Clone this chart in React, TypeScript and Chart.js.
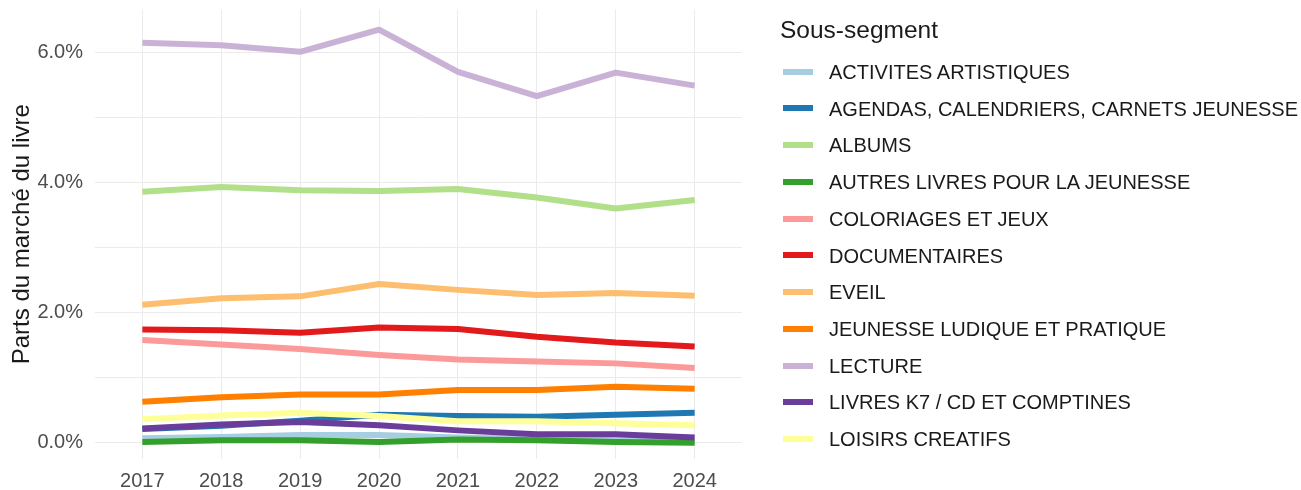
import React, { useEffect, useRef } from "react";
import { Chart, registerables } from "chart.js";

Chart.register(...registerables);

const years = [2017, 2018, 2019, 2020, 2021, 2022, 2023, 2024];

const seriesNames = [
  "ACTIVITES ARTISTIQUES",
  "AGENDAS, CALENDRIERS, CARNETS JEUNESSE",
  "ALBUMS",
  "AUTRES LIVRES POUR LA JEUNESSE",
  "COLORIAGES ET JEUX",
  "DOCUMENTAIRES",
  "EVEIL",
  "JEUNESSE LUDIQUE ET PRATIQUE",
  "LECTURE",
  "LIVRES K7 / CD ET COMPTINES",
  "LOISIRS CREATIFS",
];

const activites = [0.07, 0.09, 0.12, 0.12, 0.08, 0.06, 0.04, 0.03];
const agendas = [0.21, 0.26, 0.34, 0.43, 0.41, 0.4, 0.43, 0.46];
const albums = [3.86, 3.93, 3.88, 3.87, 3.9, 3.77, 3.6, 3.73];
const autres = [0.01, 0.04, 0.04, 0.01, 0.05, 0.04, 0.01, 0.0];
const coloriages = [1.58, 1.51, 1.44, 1.35, 1.28, 1.25, 1.22, 1.15];
const documentaires = [1.74, 1.73, 1.69, 1.77, 1.75, 1.63, 1.54, 1.48];
const eveil = [2.12, 2.22, 2.25, 2.44, 2.35, 2.27, 2.3, 2.26];
const ludique = [0.63, 0.7, 0.74, 0.74, 0.81, 0.81, 0.86, 0.83];
const lecture = [6.15, 6.11, 6.01, 6.35, 5.7, 5.33, 5.69, 5.49];
const livresK7 = [0.22, 0.28, 0.32, 0.27, 0.19, 0.13, 0.13, 0.08];
const loisirs = [0.36, 0.42, 0.46, 0.41, 0.33, 0.33, 0.3, 0.27];

const seriesValues = [
  activites,
  agendas,
  albums,
  autres,
  coloriages,
  documentaires,
  eveil,
  ludique,
  lecture,
  livresK7,
  loisirs,
];

const colors = [
  "#A6CEE3",
  "#1F78B4",
  "#B2DF8A",
  "#33A02C",
  "#FB9A99",
  "#E31A1C",
  "#FDBF6F",
  "#FF7F00",
  "#CAB2D6",
  "#6A3D9A",
  "#FFFF99",
];

const yTicks = [0, 1, 2, 3, 4, 5, 6];

const FONT = "'Liberation Sans', Arial, sans-serif";

export default function App() {
  const ref = useRef<HTMLCanvasElement>(null);

  useEffect(() => {
    if (!ref.current) return;
    Chart.defaults.font.family = FONT;
    const chart = new Chart(ref.current, {
      type: "line",
      data: {
        datasets: seriesValues.map((vals, i) => ({
          label: seriesNames[i],
          data: years.map((yr, j) => ({ x: yr, y: vals[j] })),
          borderColor: colors[i],
          backgroundColor: colors[i],
          borderWidth: 6,
          pointRadius: 0,
          pointHoverRadius: 0,
          tension: 0,
          borderJoinStyle: "round",
          borderCapStyle: "butt",
          order: -i,
        })),
      },
      options: {
        animation: false,
        responsive: false,
        events: [],
        layout: { padding: { left: 8, right: 559, top: 9.5, bottom: 0 } },
        plugins: {
          legend: { display: false },
          tooltip: { enabled: false },
        },
        scales: {
          x: {
            type: "linear",
            min: 2016.4,
            max: 2024.6,
            afterBuildTicks: (s: any) => {
              s.ticks = years.map((v) => ({ value: v }));
            },
            afterFit: (s: any) => {
              s.height = 31;
              s.paddingLeft = 0;
              s.paddingRight = 0;
            },
            grid: { color: "#EBEBEB", lineWidth: 1, drawTicks: false },
            border: { display: false },
            ticks: {
              callback: (v: any) => String(v),
              color: "#4D4D4D",
              font: { size: 20, family: FONT },
              padding: 10,
              maxRotation: 0,
              autoSkip: false,
            },
          },
          y: {
            type: "linear",
            min: -0.25,
            max: 6.66,
            afterBuildTicks: (s: any) => {
              s.ticks = yTicks.map((v) => ({ value: v }));
            },
            afterFit: (s: any) => {
              s.width = 87;
              s.paddingTop = 0;
              s.paddingBottom = 0;
            },
            grid: { color: "#EBEBEB", lineWidth: 1, drawTicks: false },
            border: { display: false },
            ticks: {
              callback: (v: any) => (Number(v) % 2 === 0 ? Number(v).toFixed(1) + "%" : ""),
              color: "#4D4D4D",
              font: { size: 20, family: FONT },
              padding: 12,
              autoSkip: false,
            },
            title: {
              display: true,
              text: "Parts du marché du livre",
              color: "#1A1A1A",
              font: { size: 24, family: FONT },
              padding: 0,
            },
          },
        },
      },
    });
    return () => chart.destroy();
  }, []);

  const itemTop = 71.7;
  const itemStep = 36.73;

  return (
    <div
      style={{
        position: "fixed",
        left: 0,
        top: 0,
        width: 1301,
        height: 490,
        background: "#FFFFFF",
        overflow: "hidden",
        fontFamily: FONT,
      }}
    >
      <canvas ref={ref} width={1301} height={490} style={{ position: "absolute", left: 0, top: 0, width: 1301, height: 490 }} />
      <div
        style={{
          position: "absolute",
          left: 780,
          top: 18,
          fontSize: 24.5,
          lineHeight: "24.5px",
          color: "#1A1A1A",
          whiteSpace: "nowrap",
        }}
      >
        Sous-segment
      </div>
      {seriesNames.map((name, i) => {
        const cy = itemTop + itemStep * i;
        return (
          <React.Fragment key={name}>
            <div
              style={{
                position: "absolute",
                left: 783,
                top: cy - 3,
                width: 30,
                height: 6,
                background: colors[i],
              }}
            />
            <div
              style={{
                position: "absolute",
                left: 829,
                top: cy - 9.8,
                fontSize: 20,
                lineHeight: "20px",
                color: "#1A1A1A",
                whiteSpace: "nowrap",
              }}
            >
              {name}
            </div>
          </React.Fragment>
        );
      })}
    </div>
  );
}
